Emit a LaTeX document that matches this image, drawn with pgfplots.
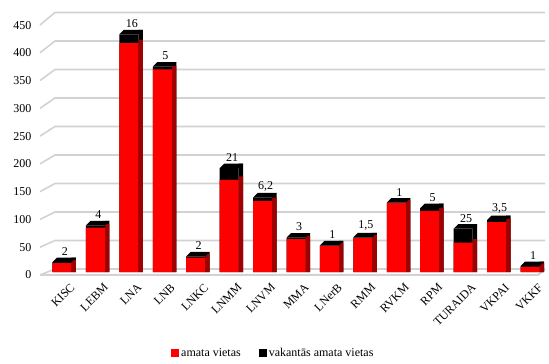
\documentclass[border=0pt]{standalone}
\usepackage{fontspec}
\setmainfont{Liberation Serif}
\usepackage{pgfplots}
\usepackage{pgfplotstable}
\pgfplotsset{compat=1.18}
\definecolor{barred}{HTML}{FF0000}
\definecolor{sidered}{HTML}{A00000}
\definecolor{gridgray}{HTML}{D2D2D2}
\pgfplotsset{sqlegend/.style={legend image code/.code={\fill[##1] (0pt,-4pt) rectangle (8pt,4pt);}}}
\newcommand{\fs}{\fontsize{12}{14}\selectfont}
\pgfdeclareplotmark{topface}{%
  \pgfpathmoveto{\pgfqpoint{-9.5pt}{0pt}}%
  \pgfpathlineto{\pgfqpoint{9.5pt}{0pt}}%
  \pgfpathlineto{\pgfqpoint{14pt}{4.5pt}}%
  \pgfpathlineto{\pgfqpoint{-5pt}{4.5pt}}%
  \pgfpathclose\pgfusepathqfill}

\pgfplotstableread{
x name red vac lab
0 KISC 16 2 2
1 LEBM 80 4 4
2 LNA 412 16 16
3 LNB 365 5 5
4 LNKC 26 2 2
5 LNMM 166 21 21
6 LNVM 128 6.2 6,2
7 MMA 59 3 3
8 LNerB 47 1 1
9 RMM 61 1.5 1,5
10 RVKM 124 1 1
11 RPM 110 5 5
12 TURAIDA 53 25 25
13 VKPAI 90 3.5 3,5
14 VKKF 9.5 1 1
}\datatable

\begin{document}
\begin{tikzpicture}
\useasboundingbox (-40pt,-92pt) rectangle (509pt,272pt);
% back wall gridlines
\foreach \v in {0,50,...,450}{
  \draw[gridgray, line width=1.6pt] (0pt,{(-3+0.5556*\v)*1pt}) -- (15pt,{(3+0.570*\v)*1pt}) -- (505pt,{(3+0.570*\v)*1pt});
}
\draw[gridgray, line width=2pt] (0pt,-3pt) -- (498pt,-3pt) -- (505pt,3pt);
\begin{axis}[
  at={(0pt,0pt)}, anchor=south west,
  scale only axis, width=505pt, height=261pt,
  xmin=-0.658, xmax=14.448, ymin=0, ymax=470,
  enlargelimits=false, clip=false,
  axis line style={draw=none},
  major tick length=0pt,
  ytick={0,50,...,450},
  xtick={0,...,14},
  xticklabels from table={\datatable}{name},
  /pgf/number format/assume math mode=true,
  yticklabel style={font=\fs, xshift=-5pt, yshift=-3pt},
  xticklabel style={font=\fs, rotate=45, anchor=north east, inner sep=0pt, xshift=-2pt, yshift=-13pt},
  legend style={draw=none, fill=none, font=\fs, legend columns=2,
    at={(0.462,-0.31)}, anchor=center,
    /tikz/every even column/.append style={column sep=16pt}},
]
% side face: black part (whole height), then dark red part
\addplot[forget plot, ybar, fill=black, draw=none, bar width=4.5pt, bar shift=11.75pt]
  table[x=x, y expr=\thisrow{red}+\thisrow{vac}+8] {\datatable};
\addplot[forget plot, ybar, fill=sidered, draw=none, bar width=4.5pt, bar shift=11.75pt]
  table[x=x, y expr=\thisrow{red}+6] {\datatable};
% front faces
\addplot[forget plot, ybar, fill=black, draw=none, bar width=19pt, bar shift=0pt]
  table[x=x, y expr=\thisrow{red}+\thisrow{vac}] {\datatable};
\addplot[forget plot, ybar, fill=barred, draw=none, bar width=19pt, bar shift=0pt]
  table[x=x, y=red] {\datatable};
% top faces
\addplot[forget plot, only marks, mark=topface, mark options={fill=black, draw=none}]
  table[x=x, y expr=\thisrow{red}+\thisrow{vac}] {\datatable};
% vacancy labels
\addplot[forget plot, only marks, mark=none,
  nodes near coords, point meta=explicit symbolic,
  nodes near coords style={font=\fs, anchor=south, yshift=3pt, xshift=3pt}]
  table[x=x, y expr=\thisrow{red}+\thisrow{vac}, meta=lab] {\datatable};
\addlegendimage{sqlegend, fill=barred, draw=none}
\addlegendentry{amata vietas}
\addlegendimage{sqlegend, fill=black, draw=none}
\addlegendentry{vakantās amata vietas}
\end{axis}
\end{tikzpicture}
\end{document}
